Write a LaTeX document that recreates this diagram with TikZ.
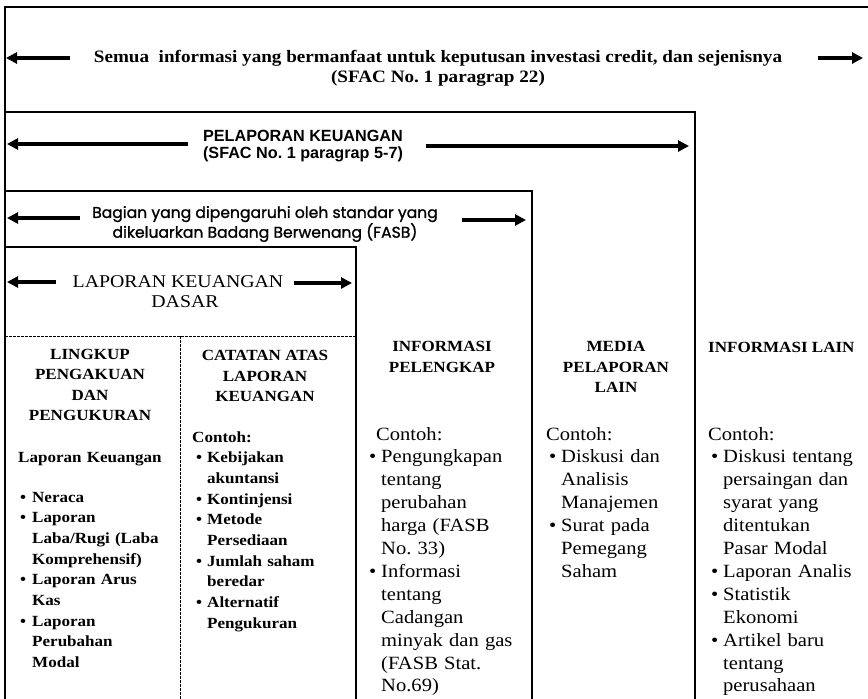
\documentclass[tikz,border=0pt]{standalone}
\usepackage{fontspec}
\setmainfont{Liberation Serif}[FakeStretch=1.1]
\setsansfont{Liberation Sans}
\newfontfamily\gothicfont{Poppins}[FakeBold=1.2]
\usetikzlibrary{arrows.meta}
\newcommand\bul{\makebox[12pt][l]{\textbullet}}
\newcommand\ind{\hspace*{12pt}}
\frenchspacing

\begin{document}
\begin{tikzpicture}[x=1pt, y=-1pt,
  frame/.style={line width=1.1pt},
  dashline/.style={line width=0.8pt, dash pattern=on 2.5pt off 1.5pt},
  fatarrow/.style={line width=3.4pt, -{Triangle[length=11pt,width=11pt]}},
  titleA/.style={font=\fontsize{17.4}{20}\selectfont\bfseries, align=center, inner sep=0pt},
  titleB/.style={font=\sffamily\bfseries\fontsize{16.2}{17.5}\selectfont, align=center, inner sep=0pt},
  titleC/.style={font=\gothicfont\fontsize{15.6}{17.5}\selectfont, align=center, inner sep=0pt},
  titleD/.style={font=\fontsize{18}{20}\selectfont, align=center, inner sep=0pt},
  colhead/.style={font=\fontsize{15.5}{20.3}\selectfont\bfseries, align=center, inner sep=0pt},
  boldbody/.style={font=\fontsize{15.5}{20.7}\selectfont\bfseries, align=left, inner sep=0pt, anchor=base west, text width=160pt},
  plainbody/.style={font=\fontsize{18.7}{22.9}\selectfont, align=left, inner sep=0pt, anchor=base west, text width=160pt}]
\useasboundingbox (0,0) rectangle (868,699);
\clip (0,0) rectangle (868,699);

% frames
\draw[frame] (5,705) -- (5,7) -- (875,7);
\draw[frame] (5,112) -- (695,112) -- (695,705);
\draw[frame] (5,191) -- (532,191) -- (532,705);
\draw[frame] (5,247) -- (356,247) -- (356,705);
\draw[dashline] (5,336) -- (356,336);
\draw[dashline] (180,336) -- (180,705);

% titles with arrows
\node[titleA] (semua) at (438,68) {Semua\ \ informasi yang bermanfaat untuk keputusan investasi credit, dan sejenisnya\\(SFAC No. 1 paragrap 22)};
\coordinate (semuaL0) at (70,58);  \coordinate (semuaL1) at (6,58);
\coordinate (semuaR0) at (818,58); \coordinate (semuaR1) at (863,58);
\draw[fatarrow] (semuaL0) -- (semuaL1);
\draw[fatarrow] (semuaR0) -- (semuaR1);

\node[titleB] (pelaporan) at (303,146) {PELAPORAN KEUANGAN\\(SFAC No. 1 paragrap 5-7)};
\coordinate (pelL0) at (188,144); \coordinate (pelL1) at (7,144);
\coordinate (pelR0) at (426,146); \coordinate (pelR1) at (689,146);
\draw[fatarrow] (pelL0) -- (pelL1);
\draw[fatarrow] (pelR0) -- (pelR1);

\node[titleC] (bagian) at (265,224) {Bagian yang dipengaruhi oleh standar yang\\dikeluarkan Badang Berwenang (FASB)};
\coordinate (bagL0) at (80,218);  \coordinate (bagL1) at (7,218);
\coordinate (bagR0) at (462,220); \coordinate (bagR1) at (526,220);
\draw[fatarrow] (bagL0) -- (bagL1);
\draw[fatarrow] (bagR0) -- (bagR1);

\node[titleD] (dasar) at (178,292) {LAPORAN KEUANGAN\\\hspace*{14pt}DASAR};
\coordinate (dasL0) at (56,282);  \coordinate (dasL1) at (7,282);
\coordinate (dasR0) at (294,283); \coordinate (dasR1) at (352,283);
\draw[fatarrow] (dasL0) -- (dasL1);
\draw[fatarrow] (dasR0) -- (dasR1);

% column A
\node[colhead] (lingkup) at (90,385) {LINGKUP\\PENGAKUAN\\DAN\\PENGUKURAN};
\node[boldbody] (lapkeu) at (18,462) {Laporan Keuangan};
\node[boldbody] (listA) at (20,502) {\bul Neraca\\\bul Laporan\\\ind Laba/Rugi (Laba\\\ind Komprehensif)\\\bul Laporan Arus\\\ind Kas\\\bul Laporan\\\ind Perubahan\\\ind Modal};

% column B
\node[colhead] (catatan) at (265,376) {CATATAN ATAS\\LAPORAN\\KEUANGAN};
\node[boldbody] (listB) at (192,442) {Contoh:\\\hspace*{4pt}\makebox[11pt][l]{\textbullet}Kebijakan\\\hspace*{15pt}akuntansi\\\hspace*{4pt}\makebox[11pt][l]{\textbullet}Kontinjensi\\\hspace*{4pt}\makebox[11pt][l]{\textbullet}Metode\\\hspace*{15pt}Persediaan\\\hspace*{4pt}\makebox[11pt][l]{\textbullet}Jumlah saham\\\hspace*{15pt}beredar\\\hspace*{4pt}\makebox[11pt][l]{\textbullet}Alternatif\\\hspace*{15pt}Pengukuran};

% column C
\node[colhead] (pelengkap) at (442,357) {INFORMASI\\PELENGKAP};
\node[plainbody] (listC) at (376,440) {Contoh:\\\hspace*{-7pt}\bul Pengungkapan\\\hspace*{5pt}tentang\\\hspace*{5pt}perubahan\\\hspace*{5pt}harga (FASB\\\hspace*{5pt}No. 33)\\\hspace*{-7pt}\bul Informasi\\\hspace*{5pt}tentang\\\hspace*{5pt}Cadangan\\\hspace*{5pt}minyak dan gas\\\hspace*{5pt}(FASB Stat.\\\hspace*{5pt}No.69)};

% column D
\node[colhead] (media) at (616,367) {MEDIA\\PELAPORAN\\LAIN};
\node[plainbody] (listD) at (546,440) {Contoh:\\\hspace*{3pt}\bul Diskusi dan\\\hspace*{15pt}Analisis\\\hspace*{15pt}Manajemen\\\hspace*{3pt}\bul Surat pada\\\hspace*{15pt}Pemegang\\\hspace*{15pt}Saham};

% column E
\node[colhead, anchor=west] (lain) at (708,347) {INFORMASI LAIN};
\node[plainbody] (listE) at (708,440) {Contoh:\\\hspace*{3pt}\bul Diskusi tentang\\\hspace*{15pt}persaingan dan\\\hspace*{15pt}syarat yang\\\hspace*{15pt}ditentukan\\\hspace*{15pt}Pasar Modal\\\hspace*{3pt}\bul Laporan Analis\\\hspace*{3pt}\bul Statistik\\\hspace*{15pt}Ekonomi\\\hspace*{3pt}\bul Artikel baru\\\hspace*{15pt}tentang\\\hspace*{15pt}perusahaan};
\end{tikzpicture}
\end{document}
